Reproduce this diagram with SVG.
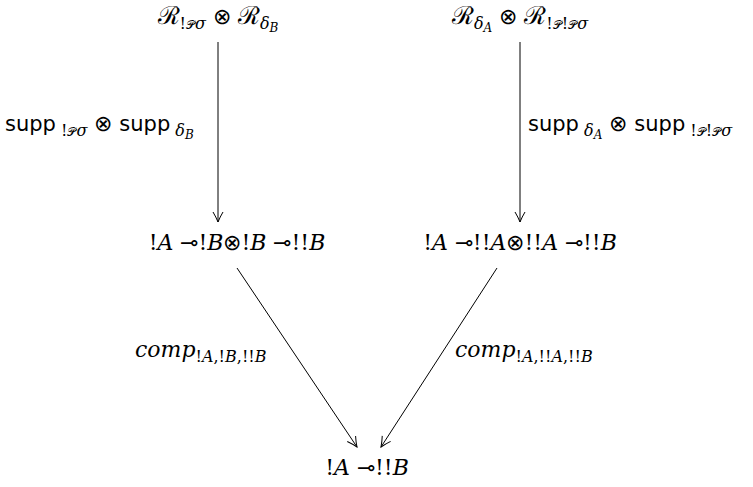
<svg xmlns="http://www.w3.org/2000/svg" width="753" height="487" viewBox="0 0 753 487">
<defs>
<marker id="arr" viewBox="0 0 12 12" refX="11" refY="6" markerWidth="12" markerHeight="12" markerUnits="userSpaceOnUse" orient="auto">
<path d="M1,1 Q6,4 11,6 Q6,8 1,11" fill="none" stroke="#000" stroke-width="1"/>
</marker>
<style>
.m{font-family:"DejaVu Serif","Liberation Serif",serif;font-size:22px;fill:#000}
.i{font-style:italic}
.s{font-family:"DejaVu Sans","Liberation Sans",sans-serif;font-size:21px;fill:#000}
.R{font-size:25px}
.sub{font-size:16px}
.ssub{font-size:12px}
.o{font-family:"DejaVu Sans",sans-serif;font-weight:200}
.e{stroke:#000;stroke-width:1;fill:none;marker-end:url(#arr)}
</style>
</defs>
<g id="edges">
<line class="e" x1="218" y1="42" x2="218" y2="222"/>
<line class="e" x1="520" y1="42" x2="520" y2="222"/>
<line class="e" x1="237" y1="268" x2="357" y2="447"/>
<line class="e" x1="497" y1="268" x2="381" y2="447"/>
</g>
<g id="n-top-left">
<text class="m" x="218" y="24" text-anchor="middle"><tspan class="R">ℛ</tspan><tspan class="sub" dy="5">!</tspan><tspan class="ssub">𝒫</tspan><tspan class="sub i">σ</tspan><tspan dy="-5"> <tspan class="o">⊗</tspan> </tspan><tspan class="R">ℛ</tspan><tspan class="sub i" dy="5">δ</tspan><tspan class="ssub i" dy="3">B</tspan></text>
</g>
<g id="n-top-right">
<text class="m" x="520" y="24" text-anchor="middle"><tspan class="R">ℛ</tspan><tspan class="sub i" dy="5">δ</tspan><tspan class="ssub i" dy="3">A</tspan><tspan dy="-8"> <tspan class="o">⊗</tspan> </tspan><tspan class="R">ℛ</tspan><tspan class="sub" dy="5">!</tspan><tspan class="ssub">𝒫</tspan><tspan class="sub">!</tspan><tspan class="ssub">𝒫</tspan><tspan class="sub i">σ</tspan></text>
</g>
<g id="lbl-left">
<text class="s" x="5" y="131">supp<tspan class="m sub" dy="5"> !</tspan><tspan class="m ssub">𝒫</tspan><tspan class="m sub i">σ</tspan><tspan class="m" dy="-5"> <tspan class="o">⊗</tspan> </tspan>supp<tspan class="m sub i" dy="5"> δ</tspan><tspan class="m ssub i" dy="3">B</tspan></text>
</g>
<g id="lbl-right">
<text class="s" x="528" y="131">supp<tspan class="m sub i" dy="5"> δ</tspan><tspan class="m ssub i" dy="3">A</tspan><tspan class="m" dy="-8"> <tspan class="o">⊗</tspan> </tspan>supp<tspan class="m sub" dy="5"> !</tspan><tspan class="m ssub">𝒫</tspan><tspan class="m sub">!</tspan><tspan class="m ssub">𝒫</tspan><tspan class="m sub i">σ</tspan></text>
</g>
<g id="n-mid-left">
<text class="m" x="237" y="250" text-anchor="middle">!<tspan class="i">A</tspan> ⊸!<tspan class="i">B</tspan><tspan class="o">⊗</tspan>!<tspan class="i">B</tspan> ⊸!!<tspan class="i">B</tspan></text>
</g>
<g id="n-mid-right">
<text class="m" x="520" y="250" text-anchor="middle">!<tspan class="i">A</tspan> ⊸!!<tspan class="i">A</tspan><tspan class="o">⊗</tspan>!!<tspan class="i">A</tspan> ⊸!!<tspan class="i">B</tspan></text>
</g>
<g id="lbl-comp-left">
<text class="m" x="135" y="357"><tspan class="i">comp</tspan><tspan class="sub" dy="5">!<tspan class="i">A</tspan>,!<tspan class="i">B</tspan>,!!<tspan class="i">B</tspan></tspan></text>
</g>
<g id="lbl-comp-right">
<text class="m" x="455" y="357"><tspan class="i">comp</tspan><tspan class="sub" dy="5">!<tspan class="i">A</tspan>,!!<tspan class="i">A</tspan>,!!<tspan class="i">B</tspan></tspan></text>
</g>
<g id="n-bottom">
<text class="m" x="367" y="475" text-anchor="middle">!<tspan class="i">A</tspan> ⊸!!<tspan class="i">B</tspan></text>
</g>
</svg>
